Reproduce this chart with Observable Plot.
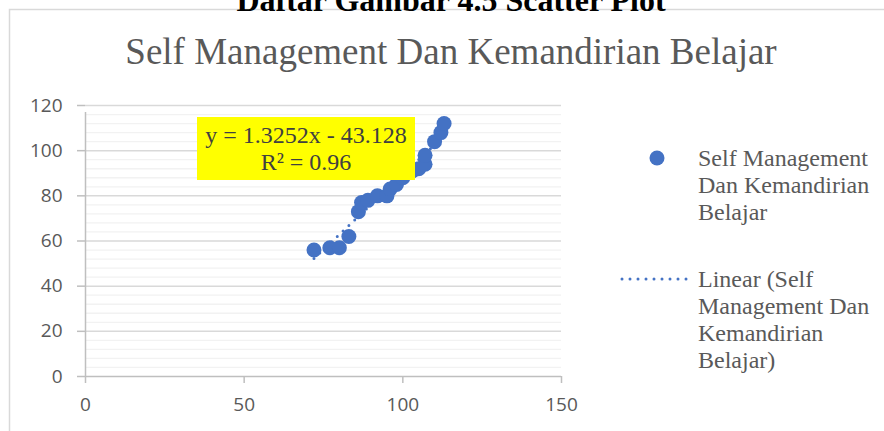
<!DOCTYPE html>
<html>
<head>
<meta charset="utf-8">
<script src="https://cdn.jsdelivr.net/npm/d3@7"></script>
<script src="https://cdn.jsdelivr.net/npm/@observablehq/plot@0.6"></script>
<style>
  html, body { margin: 0; padding: 0; background: #fff; }
  #chart { position: relative; width: 884px; height: 431px; overflow: hidden; }
</style>
</head>
<body>
<div id="chart"></div>
<script>
// ---- data ----
const xValues = [72, 77, 80, 83, 86, 87, 89, 92, 95, 96, 98, 100, 101, 103, 105, 107, 107, 110, 112, 113];
const yValues = [56, 57, 57, 62, 73, 77, 78, 80, 80, 83, 85, 88, 90, 91, 92, 94, 98, 104, 108, 112];
const slope = 1.3252;
const intercept = -43.128;
const rSquared = 0.96;
const xTicks = [0, 50, 100, 150];
const yTicks = [0, 20, 40, 60, 80, 100, 120];
const yMinor = d3.range(0, 121, 4).filter(v => v % 20 !== 0);
const chartTitle = "Self Management Dan Kemandirian Belajar";
const captionText = "Daftar Gambar 4.5 Scatter Plot";
const seriesLegend = ["Self Management", "Dan Kemandirian", "Belajar"];
const trendLegend = ["Linear (Self", "Management Dan", "Kemandirian", "Belajar)"];

const points = xValues.map((x, i) => ({x, y: yValues[i]}));
const xMin = d3.min(xValues), xMax = d3.max(xValues);
const trend = [xMin, xMax].map(x => ({x, y: slope * x + intercept}));

const blue = "#4472C4";
const tickFont = "'Open Sans', sans-serif";
const serif = "'Liberation Serif', 'Times New Roman', serif";

const plot = Plot.plot({
  width: 884,
  height: 431,
  marginLeft: 85,
  marginRight: 323,
  marginTop: 105,
  marginBottom: 55,
  style: {background: "transparent", fontFamily: tickFont, fontSize: "19px", overflow: "visible"},
  x: {domain: [0, 150]},
  y: {domain: [0, 120]},
  marks: [
    Plot.ruleY(yMinor, {stroke: "#F2F2F2", strokeWidth: 1.3}),
    Plot.ruleY(yTicks.filter(v => v > 0), {stroke: "#D9D9D9", strokeWidth: 1.5}),
    Plot.ruleX([0], {y1: 0, y2: 120, stroke: "#BFBFBF", strokeWidth: 1.5, insetBottom: -7}),
    Plot.ruleY([0], {x1: 0, x2: 150, stroke: "#BFBFBF", strokeWidth: 1.5}),
    Plot.axisY({ticks: yTicks, tickSize: 8, tickPadding: 15, stroke: "#BFBFBF", fill: "#595959", strokeWidth: 1.5, label: null, tickFormat: d => d}),
    Plot.axisX({ticks: xTicks, tickSize: 7, tickPadding: 14, stroke: "#BFBFBF", fill: "#595959", strokeWidth: 1.5, label: null, tickFormat: d => d}),
    Plot.line(trend, {x: "x", y: "y", stroke: blue, strokeWidth: 3, strokeDasharray: "0 8", strokeLinecap: "round"}),
    Plot.dot(points, {x: "x", y: "y", r: 7.5, fill: blue, stroke: "none"})
  ]
});

document.getElementById("chart").appendChild(plot);

// ---- decorations (title, border, caption, equation label, legend) ----
const svg = d3.select(plot);

svg.insert("rect", ":first-child")
  .attr("x", 9.5).attr("y", 9.5).attr("width", 900).attr("height", 450)
  .attr("fill", "#fff").attr("stroke", "#D9D9D9").attr("stroke-width", 1.5);

svg.append("text")
  .attr("x", 451).attr("y", 11)
  .attr("text-anchor", "middle")
  .attr("font-family", serif).attr("font-weight", "bold").attr("font-size", 32)
  .attr("fill", "#000")
  .text(captionText);

svg.append("text")
  .attr("x", 451).attr("y", 64)
  .attr("text-anchor", "middle")
  .attr("font-family", serif).attr("font-size", 37)
  .attr("fill", "#595959")
  .text(chartTitle);

// equation label
const eq = svg.append("g");
eq.append("rect").attr("x", 197).attr("y", 117).attr("width", 218).attr("height", 63).attr("fill", "#FFFF00");
eq.append("text").attr("x", 306).attr("y", 143).attr("text-anchor", "middle")
  .attr("font-family", serif).attr("font-size", 24).attr("fill", "#404040")
  .text(`y = ${slope}x - ${Math.abs(intercept)}`);
eq.append("text").attr("x", 306).attr("y", 170).attr("text-anchor", "middle")
  .attr("font-family", serif).attr("font-size", 24).attr("fill", "#404040")
  .text(`R² = ${rSquared}`);

// legend
const lg = svg.append("g").attr("font-family", serif).attr("font-size", 24).attr("fill", "#595959").attr("text-anchor", "start");
lg.append("circle").attr("cx", 657).attr("cy", 158).attr("r", 7.5).attr("fill", blue);
seriesLegend.forEach((t, i) => {
  lg.append("text").attr("x", 698).attr("y", 166 + i * 27).attr("text-anchor", "start").text(t);
});
lg.append("line").attr("x1", 622).attr("x2", 692).attr("y1", 279).attr("y2", 279)
  .attr("stroke", blue).attr("stroke-width", 3).attr("stroke-dasharray", "0 8").attr("stroke-linecap", "round");
trendLegend.forEach((t, i) => {
  lg.append("text").attr("x", 698).attr("y", 287 + i * 27).attr("text-anchor", "start").text(t);
});
</script>
</body>
</html>
